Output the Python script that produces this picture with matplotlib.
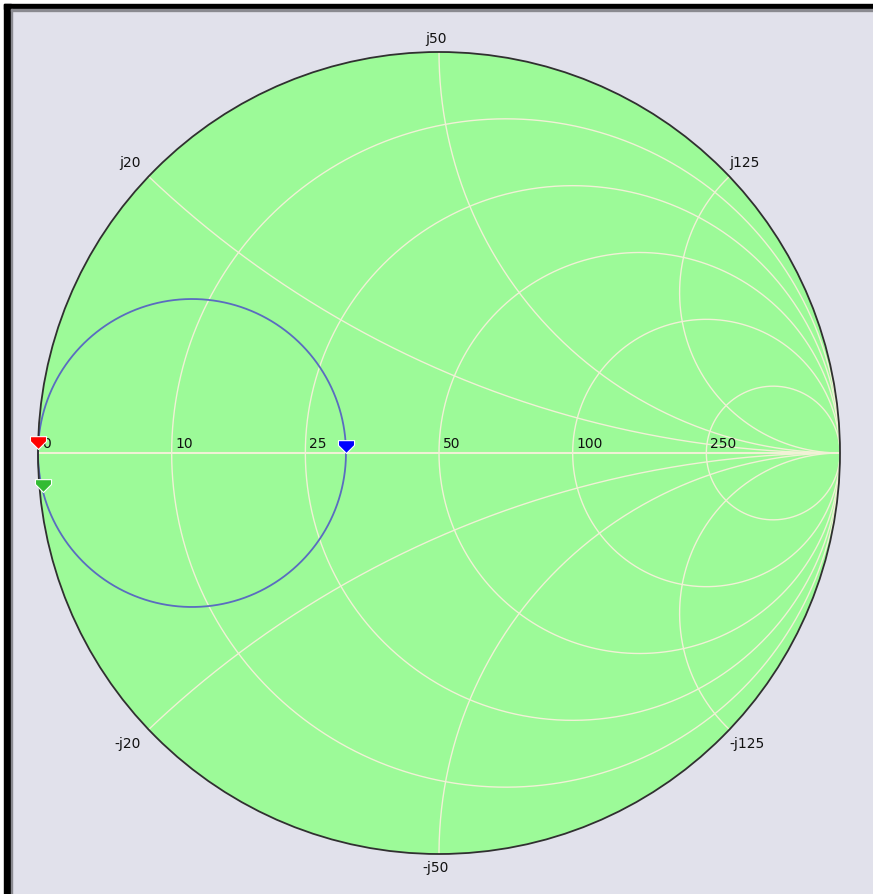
import numpy as np
import matplotlib
matplotlib.use("Agg")
import matplotlib.pyplot as plt
from matplotlib.patches import Circle, Rectangle
from matplotlib.path import Path

# ---- data ----
z0 = 50.0
resistances = [10, 25, 50, 100, 250]          # ohm, constant-R circles
reactances = [20, 50, 125]                    # ohm, +/- jX arcs
real_labels = ["0", "10", "25", "50", "100", "250"]
# markers (reflection coefficient, re/im)
marker_names = ["red", "green", "blue"]
marker_re = [-1.0, -0.9875, -0.232]
marker_im = [0.01, -0.097, 0.0]
marker_colors = ["#ff0000", "#33bb33", "#0000ff"]
# blue locus circle: crosses real axis at these reflection coefficients
locus_left, locus_right = -1.0, -0.232

# ---- figure geometry ----
W, H = 873, 894
cx, cy, R = 439.0, 453.0, 401.0
fig = plt.figure(figsize=(W / 100, H / 100), dpi=100)
fig.patch.set_facecolor("#e1e1eb")
ax = fig.add_axes([0, 0, 1, 1])
ax.set_xlim(-cx / R, (W - cx) / R)
ax.set_ylim(-(H - cy) / R, cy / R)
ax.axis("off")

px = 1.0 / R  # one pixel in data units

# frame (black left and top bars)
x0, y1 = -cx / R, cy / R
ax.add_patch(Rectangle((x0, -(H - cy) / R), 11 * px, H * px, color="white", zorder=0.5))
ax.add_patch(Rectangle((x0, y1 - 11 * px), W * px, 11 * px, color="white", zorder=0.5))
ax.add_patch(Rectangle((x0 + 4 * px, -(H - cy) / R), 7 * px, (H - 4) * px, color="black", zorder=0.6))
ax.add_patch(Rectangle((x0 + 4 * px, y1 - 9 * px), (W - 4) * px, 5 * px, color="black", zorder=0.6))
ax.add_patch(Rectangle((x0 + 11 * px, -(H - cy) / R), 1.5 * px, (H - 9) * px, color="#8a8a90", zorder=0.6))
ax.add_patch(Rectangle((x0 + 11 * px, y1 - 10.5 * px), (W - 11) * px, 1.5 * px, color="#8a8a90", zorder=0.6))

# chart disk
disk = Circle((0, 0), 1.0, facecolor="#9cfa98", edgecolor="none", zorder=1)
ax.add_patch(disk)

grid_c = "#f1f1d6"
glw = 1.0
t = np.linspace(0, 2 * np.pi, 1200)

# constant resistance circles
for Rv in resistances:
    r = Rv / z0
    c, rad = r / (1 + r), 1 / (1 + r)
    ln, = ax.plot(c + rad * np.cos(t), rad * np.sin(t), color=grid_c, lw=glw, zorder=2)
    ln.set_clip_path(disk)

# real axis
ln, = ax.plot([-1, 1], [0, 0], color=grid_c, lw=glw * 1.5, zorder=2)
ln.set_clip_path(disk)

# constant reactance arcs
for Xv in reactances:
    x = Xv / z0
    for s in (1, -1):
        ln, = ax.plot(1 + (1 / x) * np.cos(t), s / x + (1 / x) * np.sin(t),
                      color=grid_c, lw=glw, zorder=2)
        ln.set_clip_path(disk)

# outer circle
ax.add_patch(Circle((0, 0), 1.0, facecolor="none", edgecolor="#303030", lw=1.3, zorder=5))

# blue locus circle
lc, lr = (locus_left + locus_right) / 2, (locus_right - locus_left) / 2
ax.plot(lc + lr * np.cos(t), lr * np.sin(t), color="#5a6cc0", lw=1.3, zorder=4)

fs = 10
# real-axis labels
real_pts = [-1.0] + [((Rv / z0) - 1) / ((Rv / z0) + 1) for Rv in resistances]
for lab, g in zip(real_labels, real_pts):
    ax.annotate(lab, (g, 0), xytext=(4, 2), textcoords="offset pixels",
                ha="left", va="bottom", fontsize=fs, color="#111111", zorder=6)

# reactance labels
for Xv in reactances:
    x = Xv / z0
    for s in (1, -1):
        gr = (x * x - 1) / (x * x + 1)
        gi = s * 2 * x / (x * x + 1)
        lab = ("j%d" % Xv) if s > 0 else ("-j%d" % Xv)
        if abs(gr) < 0.05:
            ha, dx = "center", -3
        elif gr < 0:
            ha, dx = "right", -8
        else:
            ha, dx = "left", 0
        va, dy = ("bottom", 6) if s > 0 else ("top", -7)
        ax.annotate(lab, (gr, gi), xytext=(dx, dy), textcoords="offset pixels",
                    ha=ha, va=va, fontsize=fs, color="#111111", zorder=6)

# marker shape: tip at the data point
verts = [(-1.0, 1.6), (1.0, 1.6), (1.0, 1.0), (0.0, 0.0), (-1.0, 1.0), (-1.0, 1.6)]
mk = Path(verts)
for re_, im_, col in zip(marker_re, marker_im, marker_colors):
    ax.plot([re_], [im_], marker=mk, markersize=18.5, color=col,
            markeredgecolor="white", markeredgewidth=0.8, linestyle="none", zorder=7)

fig.savefig("out.png", dpi=100, facecolor=fig.get_facecolor())
